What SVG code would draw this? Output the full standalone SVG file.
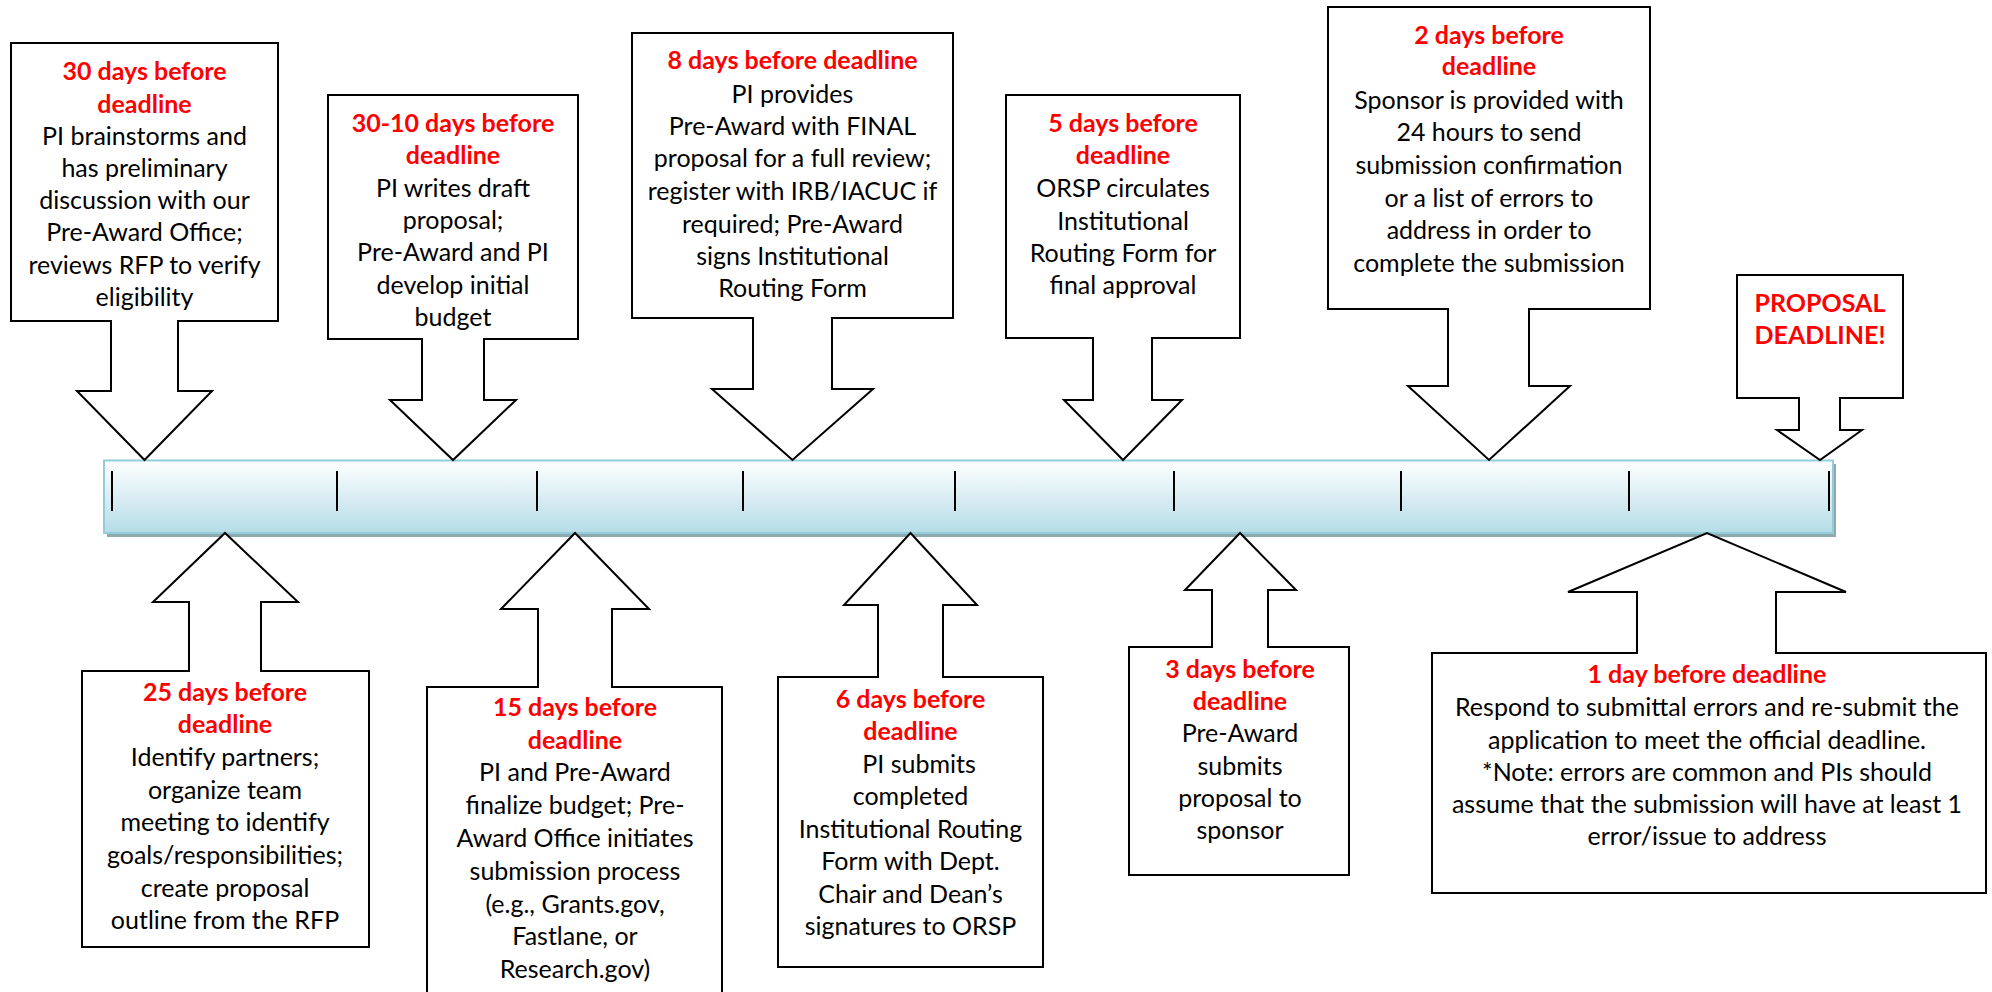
<svg xmlns="http://www.w3.org/2000/svg" width="1992" height="992" viewBox="0 0 1992 992">
<defs>
<linearGradient id="barGrad" x1="0" y1="0" x2="0" y2="1">
<stop offset="0" stop-color="#ffffff"/>
<stop offset="1" stop-color="#b5dce6"/>
</linearGradient>
<style>
.box{fill:#fff;stroke:#000;stroke-width:2;stroke-linejoin:miter}
.t{font-family:Lato,"Open Sans","Liberation Sans",sans-serif;font-size:25px;text-anchor:middle;fill:#000}
.r{fill:#ff0000;font-weight:bold}
.tick{stroke:#000;stroke-width:2}
</style>
</defs>
<rect width="1992" height="992" fill="#fff"/>
<g id="timeline">
<rect x="107" y="464" width="1729" height="73" fill="#8fa9b1"/>
<rect x="104" y="460.5" width="1729" height="72.5" fill="url(#barGrad)" stroke="#93cddb" stroke-width="2"/>
<g class="tick">
<line x1="112" y1="471" x2="112" y2="511"/>
<line x1="337" y1="471" x2="337" y2="511"/>
<line x1="537" y1="471" x2="537" y2="511"/>
<line x1="743" y1="471" x2="743" y2="511"/>
<line x1="955" y1="471" x2="955" y2="511"/>
<line x1="1174" y1="471" x2="1174" y2="511"/>
<line x1="1401" y1="471" x2="1401" y2="511"/>
<line x1="1629" y1="471" x2="1629" y2="511"/>
<line x1="1829" y1="471" x2="1829" y2="511"/>
</g>
</g>
<g id="connectors"></g>
<g id="n30">
<path class="box" d="M11,43 H278 V321 H178 V391 H212 L144.5,460 L77,391 H111 V321 H11 Z"/>
<text class="t"><tspan class="r" x="144.5" y="80">30 days before</tspan><tspan class="r" x="144.5" y="112.5">deadline</tspan><tspan x="144.5" y="144.5">PI brainstorms and</tspan><tspan x="144.5" y="177">has preliminary</tspan><tspan x="144.5" y="209">discussion with our</tspan><tspan x="144.5" y="241">Pre-Award Office;</tspan><tspan x="144.5" y="274">reviews RFP to verify</tspan><tspan x="144.5" y="306">eligibility</tspan></text>
</g>
<g id="n30to10">
<path class="box" d="M328,95 H578 V339 H484 V400 H516 L453,460 L390,400 H422 V339 H328 Z"/>
<text class="t"><tspan class="r" x="453" y="132">30-10 days before</tspan><tspan class="r" x="453" y="164">deadline</tspan><tspan x="453" y="197">PI writes draft</tspan><tspan x="453" y="228.5">proposal;</tspan><tspan x="453" y="261">Pre-Award and PI</tspan><tspan x="453" y="293.5">develop initial</tspan><tspan x="453" y="326">budget</tspan></text>
</g>
<g id="n8">
<path class="box" d="M632,33 H953 V318 H832 V389 H873 L792.5,460 L712,389 H753 V318 H632 Z"/>
<text class="t"><tspan class="r" x="792.5" y="69">8 days before deadline</tspan><tspan x="792.5" y="102.5">PI provides</tspan><tspan x="792.5" y="134.5">Pre-Award with FINAL</tspan><tspan x="792.5" y="167">proposal for a full review;</tspan><tspan x="792.5" y="200">register with IRB/IACUC if</tspan><tspan x="792.5" y="232.5">required; Pre-Award</tspan><tspan x="792.5" y="265">signs Institutional</tspan><tspan x="792.5" y="297">Routing Form</tspan></text>
</g>
<g id="n5">
<path class="box" d="M1006,95 H1240 V338 H1152 V400 H1182 L1123,460 L1064,400 H1093 V338 H1006 Z"/>
<text class="t"><tspan class="r" x="1123" y="132">5 days before</tspan><tspan class="r" x="1123" y="164">deadline</tspan><tspan x="1123" y="197">ORSP circulates</tspan><tspan x="1123" y="229.5">Institutional</tspan><tspan x="1123" y="262">Routing Form for</tspan><tspan x="1123" y="293.5">final approval</tspan></text>
</g>
<g id="n2">
<path class="box" d="M1328,7 H1650 V309 H1529 V386 H1570 L1489,460 L1408,386 H1448 V309 H1328 Z"/>
<text class="t"><tspan class="r" x="1489" y="43.5">2 days before</tspan><tspan class="r" x="1489" y="75">deadline</tspan><tspan x="1489" y="108.5">Sponsor is provided with</tspan><tspan x="1489" y="141">24 hours to send</tspan><tspan x="1489" y="173.5">submission confirmation</tspan><tspan x="1489" y="207">or a list of errors to</tspan><tspan x="1489" y="239">address in order to</tspan><tspan x="1489" y="272">complete the submission</tspan></text>
</g>
<g id="ndeadline">
<path class="box" d="M1737,275 H1903 V398 H1840 V430 H1862 L1820,460 L1777,430 H1799 V398 H1737 Z"/>
<text class="t"><tspan class="r" x="1820" y="312">PROPOSAL</tspan><tspan class="r" x="1820" y="343.5">DEADLINE!</tspan></text>
</g>
<g id="n25">
<path class="box" d="M82,947 H369 V671 H261 V602 H298 L225,533 L153,602 H189 V671 H82 Z"/>
<text class="t"><tspan class="r" x="225" y="701">25 days before</tspan><tspan class="r" x="225" y="733">deadline</tspan><tspan x="225" y="766">Identify partners;</tspan><tspan x="225" y="798.5">organize team</tspan><tspan x="225" y="831">meeting to identify</tspan><tspan x="225" y="863.5">goals/responsibilities;</tspan><tspan x="225" y="897">create proposal</tspan><tspan x="225" y="929">outline from the RFP</tspan></text>
</g>
<g id="n15">
<path class="box" d="M427,1000 H722 V687 H612 V609 H649 L575,533 L501,609 H538 V687 H427 Z"/>
<text class="t"><tspan class="r" x="575" y="716">15 days before</tspan><tspan class="r" x="575" y="749">deadline</tspan><tspan x="575" y="781">PI and Pre-Award</tspan><tspan x="575" y="814">finalize budget; Pre-</tspan><tspan x="575" y="847">Award Office initiates</tspan><tspan x="575" y="879.5">submission process</tspan><tspan x="575" y="912.5">(e.g., Grants.gov,</tspan><tspan x="575" y="945">Fastlane, or</tspan><tspan x="575" y="977.5">Research.gov)</tspan></text>
</g>
<g id="n6">
<path class="box" d="M778,967 H1043 V677 H943 V605 H977 L910.5,533 L844,605 H878 V677 H778 Z"/>
<text class="t"><tspan class="r" x="910.5" y="707.5">6 days before</tspan><tspan class="r" x="910.5" y="740">deadline</tspan><tspan x="919" y="773">PI submits</tspan><tspan x="910.5" y="805">completed</tspan><tspan x="910.5" y="838">Institutional Routing</tspan><tspan x="910.5" y="870">Form with Dept.</tspan><tspan x="910.5" y="902.5">Chair and Dean’s</tspan><tspan x="910.5" y="935">signatures to ORSP</tspan></text>
</g>
<g id="n3">
<path class="box" d="M1129,875 H1349 V647 H1268 V590 H1296 L1240,533 L1185,590 H1212 V647 H1129 Z"/>
<text class="t"><tspan class="r" x="1240" y="677.5">3 days before</tspan><tspan class="r" x="1240" y="710">deadline</tspan><tspan x="1240" y="742">Pre-Award</tspan><tspan x="1240" y="774.5">submits</tspan><tspan x="1240" y="807">proposal to</tspan><tspan x="1240" y="839">sponsor</tspan></text>
</g>
<g id="n1">
<path class="box" d="M1432,893 H1986 V653 H1776 V592 H1846 L1707,533 L1568,592 H1637 V653 H1432 Z"/>
<text class="t"><tspan class="r" x="1707" y="682.5">1 day before deadline</tspan><tspan x="1707" y="716">Respond to submittal errors and re-submit the</tspan><tspan x="1707" y="748.5">application to meet the official deadline.</tspan><tspan x="1707" y="781">*Note: errors are common and PIs should</tspan><tspan x="1707" y="813">assume that the submission  will have at least 1</tspan><tspan x="1707" y="845">error/issue to address</tspan></text>
</g>
</svg>
